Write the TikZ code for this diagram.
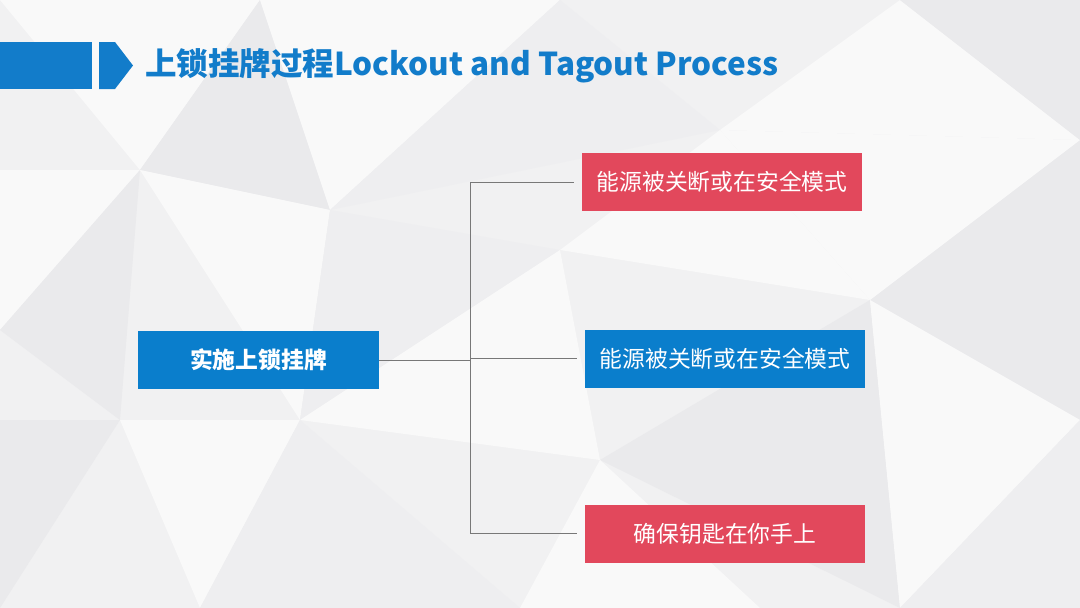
\documentclass[tikz,border=0pt]{standalone}
\usepackage{fontspec}
\newfontfamily\cjk{Noto Sans CJK SC}
\usetikzlibrary{calc}
\definecolor{hblue}{RGB}{18,124,202}
\definecolor{bblue}{RGB}{10,126,204}
\definecolor{bred}{RGB}{226,72,92}
\definecolor{lnk}{RGB}{120,120,120}
\definecolor{bg0}{RGB}{241,241,242}
\definecolor{bg1}{RGB}{249,249,249}
\definecolor{bg2}{RGB}{234,234,236}
\definecolor{bg3}{RGB}{238,238,240}
\tikzset{
  box/.style={minimum width=280pt,minimum height=58pt,inner sep=0pt,text=white,font=\cjk\fontsize{22.8}{26}\selectfont},
  redbox/.style={box,fill=bred},
  bluebox/.style={box,fill=bblue},
  mainbox/.style={box,fill=bblue,minimum width=241pt,font=\cjk\bfseries\fontsize{22.8}{26}\selectfont},
  link/.style={draw=lnk,line width=0.8pt}
}
\begin{document}
\begin{tikzpicture}[x=1pt,y=-1pt]
\useasboundingbox (0,0) rectangle (1080,608);
% background low-poly
\fill[bg0] (0,0) rectangle (1080,608);
\fill[bg1] (0,0) -- (260,0) -- (140,170) -- cycle;
\fill[bg2] (140,170) -- (260,0) -- (330,210) -- cycle;
\fill[bg1] (260,0) -- (560,0) -- (330,210) -- cycle;
\fill[bg3] (560,0) -- (720,130) -- (330,210) -- cycle;
\fill[bg1] (720,130) -- (900,0) -- (1080,140) -- cycle;
\fill[bg2] (900,0) -- (1080,0) -- (1080,140) -- cycle;
\fill[bg1] (0,170) -- (140,170) -- (0,330) -- cycle;
\fill[bg2] (0,330) -- (140,170) -- (120,420) -- cycle;
\fill[bg1] (140,170) -- (330,210) -- (300,420) -- cycle;
\fill[bg3] (330,210) -- (560,250) -- (300,420) -- cycle;
\fill[bg1] (560,250) -- (720,130) -- (870,300) -- cycle;
\fill[bg2] (870,300) -- (1080,140) -- (1080,420) -- cycle;
\fill[bg1] (720,130) -- (1080,140) -- (870,300) -- cycle;
\fill[bg2] (0,420) -- (120,420) -- (0,608) -- cycle;
\fill[bg1] (120,420) -- (300,420) -- (200,608) -- cycle;
\fill[bg3] (300,420) -- (520,608) -- (200,608) -- cycle;
\fill[bg1] (300,420) -- (560,250) -- (600,460) -- cycle;
\fill[bg2] (600,460) -- (870,300) -- (900,608) -- cycle;
\fill[bg1] (870,300) -- (1080,420) -- (900,608) -- cycle;
\fill[bg3] (900,608) -- (1080,420) -- (1080,608) -- cycle;
\fill[bg1] (520,608) -- (600,460) -- (760,608) -- cycle;
% header
\fill[hblue] (0,42) rectangle (92,89);
\fill[hblue] (99,42) -- (115,42) -- (133,65.5) -- (115,89) -- (99,89) -- cycle;
\node[anchor=west,text=hblue,font=\cjk\bfseries\fontsize{31.5}{34}\selectfont,inner sep=0pt] (title) at (145,66) {上锁挂牌过程Lockout and Tagout Process};
% nodes
\node[mainbox] (main) at (258.5,360) {实施上锁挂牌};
\node[redbox] (r1) at (722,182) {能源被关断或在安全模式};
\node[bluebox] (r2) at (725,358.5) {能源被关断或在安全模式};
\node[redbox] (r3) at (725,533.5) {确保钥匙在你手上};
% connectors
\coordinate (jx) at (470,0);
\draw[link] (main.east) -- (main.east -| jx);
\draw[link] (r1.west -| jx) -- (r3.west -| jx);
\draw[link,shorten >=8pt] (r1.west -| jx) -- (r1.west);
\draw[link,shorten >=8pt] (r2.west -| jx) -- (r2.west);
\draw[link,shorten >=8pt] (r3.west -| jx) -- (r3.west);
\end{tikzpicture}
\end{document}
